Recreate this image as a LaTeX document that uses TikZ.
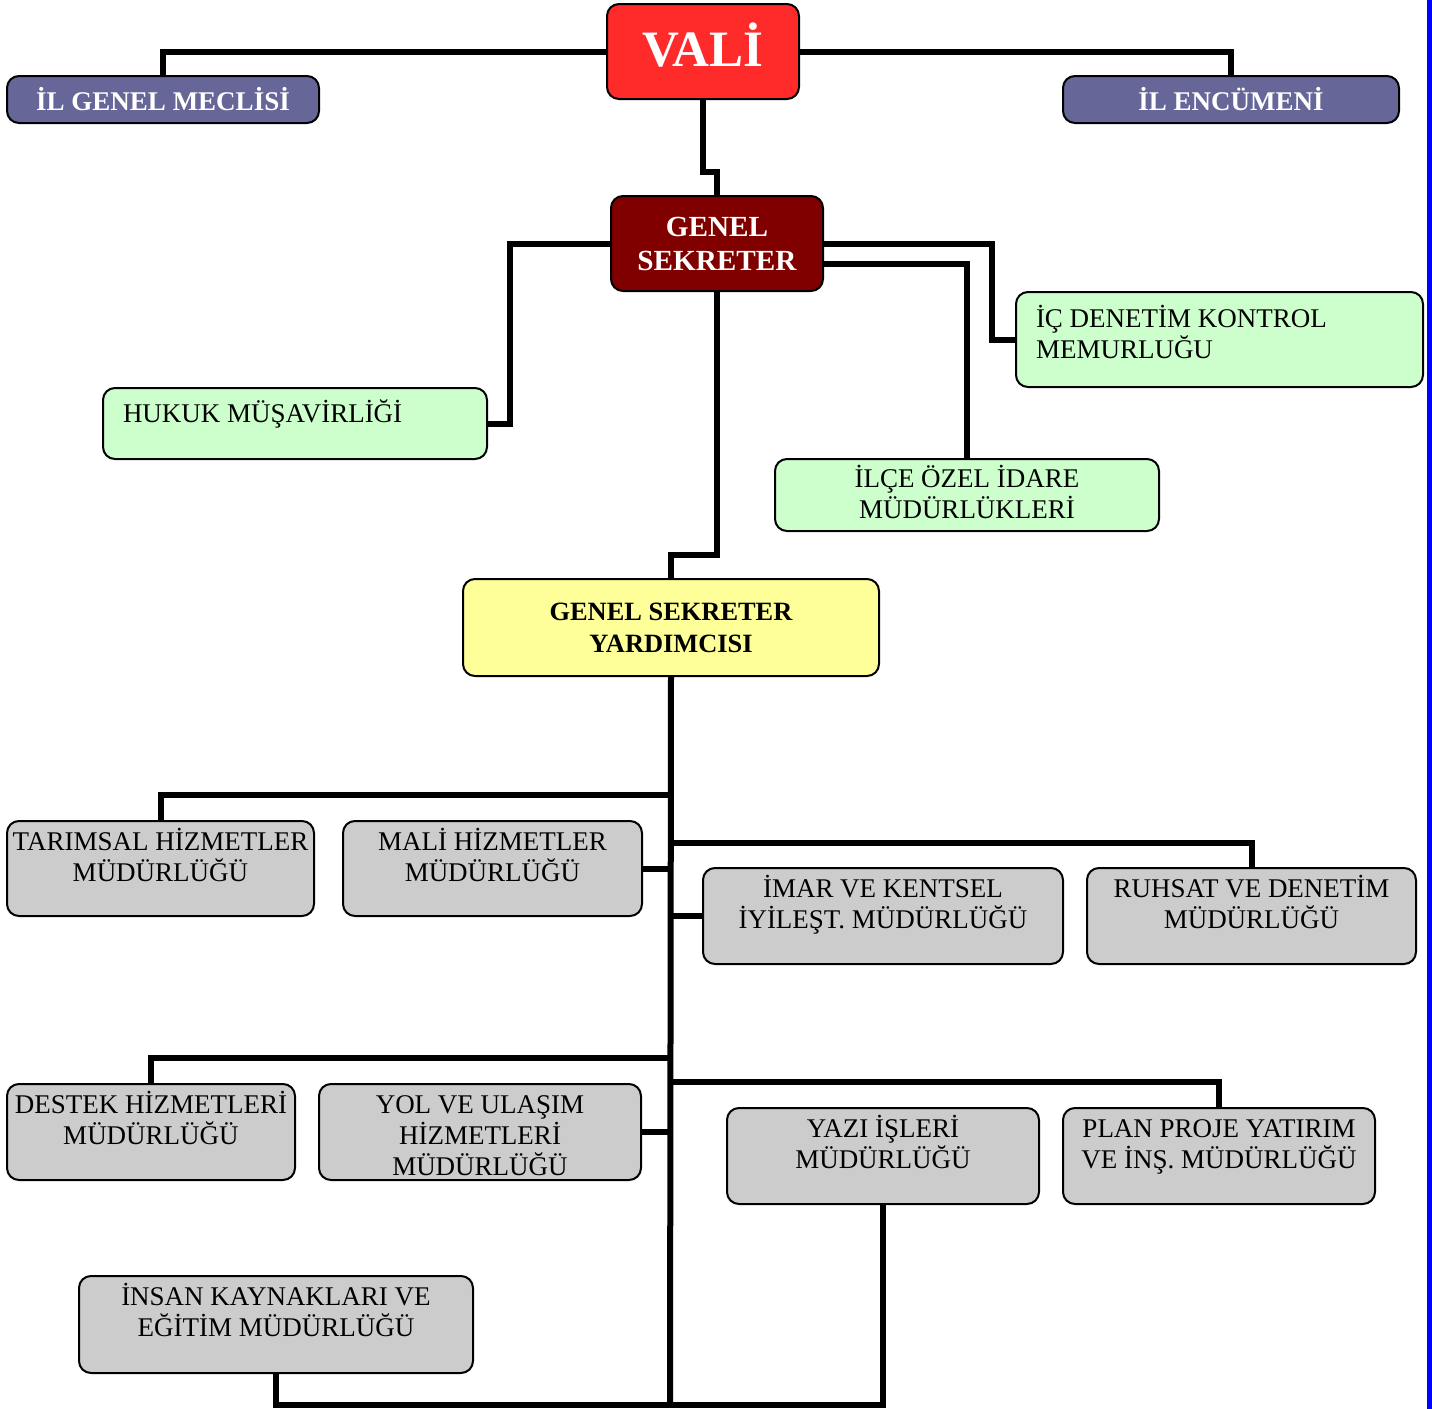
\documentclass[tikz,border=0pt]{standalone}
\usepackage{fontspec}
\setmainfont{Liberation Serif}
\usepackage{tikz}
\usetikzlibrary{positioning}

\definecolor{valikirmizi}{RGB}{255,42,42}
\definecolor{sekreterkirmizi}{RGB}{128,0,0}
\definecolor{meclismor}{RGB}{102,102,153}
\definecolor{acikyesil}{RGB}{204,255,204}
\definecolor{acikSari}{RGB}{255,255,153}
\definecolor{gri}{RGB}{204,204,204}

% text set at the top of a box: [align]{width}{height}{top gap}{text}
\newcommand{\ustyaz}[5][\centering]{\parbox[c][#3][t]{#2}{#1\vspace*{#4}\rule{0pt}{12pt}#5}}

\tikzset{
    birim/.style={draw=black, line width=1pt, rounded corners=6pt, inner sep=0pt, anchor=north west},
    ortakutu/.style={birim, align=center},
    grikutu/.style={birim, fill=gri, font=\fontsize{13.5}{15.5}\selectfont},
    yesilkutu/.style={birim, fill=acikyesil, font=\fontsize{13.5}{15.5}\selectfont},
    hat/.style={line width=3pt}
}

\begin{document}
\begin{tikzpicture}[x=0.5pt,y=-0.5pt]
    \useasboundingbox (0,0) rectangle (1432,1409);
    \fill[blue] (1427,0) rectangle (1432,1409);

    % top level
    \node[ortakutu, fill=valikirmizi, minimum width=96pt, minimum height=47.5pt,
        text=white, font=\fontsize{25.5}{28}\selectfont\bfseries] (vali) at (606,3) {\raisebox{7pt}{VALİ}};
    \node[ortakutu, fill=meclismor, minimum width=156pt, minimum height=23.5pt,
        text=white, font=\fontsize{13.5}{15.5}\selectfont\bfseries] (meclis) at (6,75) {İL GENEL MECLİSİ};
    \node[ortakutu, fill=meclismor, minimum width=168pt, minimum height=23.5pt,
        text=white, font=\fontsize{13.5}{15.5}\selectfont\bfseries] (encumen) at (1062,75) {İL ENCÜMENİ};
    \node[ortakutu, fill=sekreterkirmizi, minimum width=106pt, minimum height=47.5pt,
        text=white, font=\fontsize{14.6}{17}\selectfont\bfseries] (gs) at (610,195) {GENEL\\SEKRETER};

    % units under the secretary
    \node[yesilkutu] (hukuk) at (102,387)
        {\ustyaz[\raggedright\leftskip=10pt]{192pt}{35.5pt}{5pt}{HUKUK MÜŞAVİRLİĞİ}};
    \node[yesilkutu] (ic) at (1015,291)
        {\ustyaz[\raggedright\leftskip=10pt]{203.5pt}{47.5pt}{5.5pt}{İÇ DENETİM KONTROL\\MEMURLUĞU}};
    \node[yesilkutu] (ilce) at (774,458)
        {\ustyaz{192pt}{36pt}{2pt}{İLÇE ÖZEL İDARE\\MÜDÜRLÜKLERİ}};
    \node[ortakutu, fill=acikSari, minimum width=208pt, minimum height=48.5pt,
        font=\fontsize{13.2}{16}\selectfont\bfseries] (gsy) at (462,578) {GENEL SEKRETER\\YARDIMCISI};

    % directorates
    \node[grikutu] (tarim) at (6,820) {\ustyaz{153.5pt}{47.5pt}{2.5pt}{TARIMSAL HİZMETLER\\MÜDÜRLÜĞÜ}};
    \node[grikutu] (mali) at (342,820) {\ustyaz{149.5pt}{47.5pt}{2.5pt}{MALİ HİZMETLER\\MÜDÜRLÜĞÜ}};
    \node[grikutu] (imar) at (702,867) {\ustyaz{180pt}{48pt}{2.5pt}{İMAR VE KENTSEL\\İYİLEŞT. MÜDÜRLÜĞÜ}};
    \node[grikutu] (ruhsat) at (1086,867) {\ustyaz{164.5pt}{48pt}{2.5pt}{RUHSAT VE DENETİM\\MÜDÜRLÜĞÜ}};
    \node[grikutu] (destek) at (6,1083) {\ustyaz{144pt}{48pt}{2.5pt}{DESTEK HİZMETLERİ\\MÜDÜRLÜĞÜ}};
    \node[grikutu] (yol) at (318,1083) {\ustyaz{161pt}{48pt}{2.5pt}{YOL VE ULAŞIM\\HİZMETLERİ\\MÜDÜRLÜĞÜ}};
    \node[grikutu] (yazi) at (726,1107) {\ustyaz{156pt}{48pt}{2.5pt}{YAZI İŞLERİ\\MÜDÜRLÜĞÜ}};
    \node[grikutu] (plan) at (1062,1107) {\ustyaz{156pt}{48pt}{2.5pt}{PLAN PROJE YATIRIM\\VE İNŞ. MÜDÜRLÜĞÜ}};
    \node[grikutu] (insan) at (78,1275) {\ustyaz{197pt}{48.5pt}{2.5pt}{İNSAN KAYNAKLARI VE\\EĞİTİM MÜDÜRLÜĞÜ}};

    % points on the main line
    \coordinate (k1) at (670,795);
    \coordinate (k2) at (670,843);
    \coordinate (k3) at (670,1058);
    \coordinate (k4) at (670,1082);
    \coordinate (dip) at (670,1405);

    % connectors
    \draw[hat] (vali.west) -| (meclis.north);
    \draw[hat] (vali.east) -| (encumen.north);
    \draw[hat] (vali.south) -- ++(0,72) -| (gs.north);
    \draw[hat] (gs.west) -- ++(-100,0) |- (hukuk.east);
    \draw[hat] (gs.east) -- ++(168,0) |- (ic.west);
    \draw[hat] ([yshift=-10pt]gs.east) -| (ilce.north);
    \draw[hat] (gs.south) -- ++(0,263) -| (gsy.north);
    \draw[hat] (gsy.south) -- (dip);
    \draw[hat] (k1) -| (tarim.north);
    \draw[hat] (mali.east) -- (mali.east -| dip);
    \draw[hat] (k2) -| (ruhsat.north);
    \draw[hat] (imar.west) -- (imar.west -| dip);
    \draw[hat] (k3) -| (destek.north);
    \draw[hat] (yol.east) -- (yol.east -| dip);
    \draw[hat] (k4) -| (plan.north);
    \draw[hat] (insan.south) |- (dip) -| (yazi.south);
\end{tikzpicture}
\end{document}
